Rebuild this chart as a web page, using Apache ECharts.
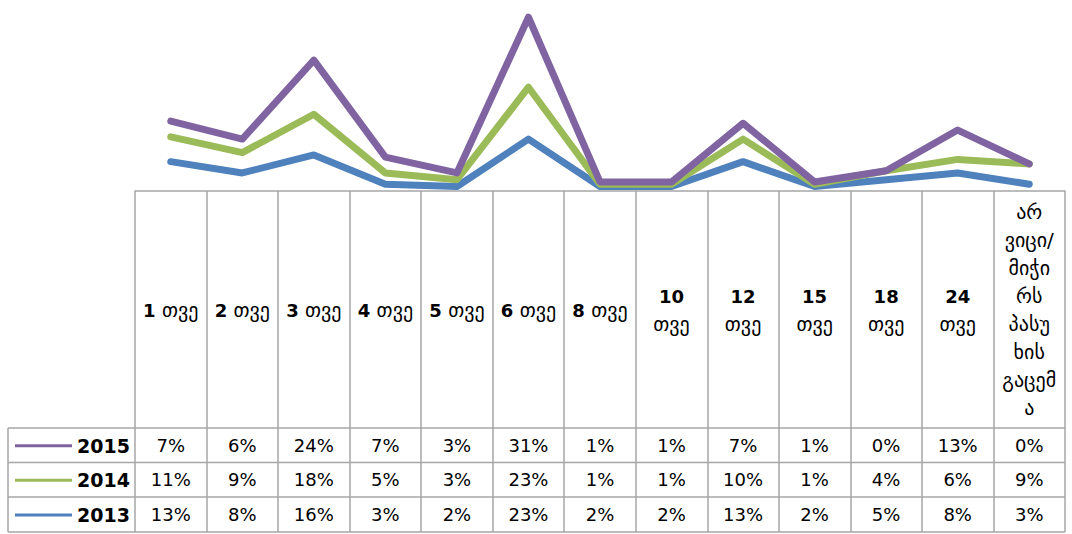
<!DOCTYPE html>
<html>
<head>
<meta charset="utf-8">
<script src="https://cdn.jsdelivr.net/npm/echarts@6/dist/echarts.min.js"></script>
<style>
  html, body { margin: 0; padding: 0; background: #fff; }
  #main { width: 1072px; height: 534px; }
</style>
</head>
<body>
<div id="main"></div>
<script>
// categories (months) and the header text as shown in the table
const categories = ['1 თვე', '2 თვე', '3 თვე', '4 თვე', '5 თვე', '6 თვე', '8 თვე',
  '10 თვე', '12 თვე', '15 თვე', '18 თვე', '24 თვე', 'არ ვიცი/ მიჭირს პასუხის გაცემა'];
const tickLabels = ['{b|1} თვე', '{b|2} თვე', '{b|3} თვე', '{b|4} თვე', '{b|5} თვე', '{b|6} თვე', '{b|8} თვე',
  '{b|10}\nთვე', '{b|12}\nთვე', '{b|15}\nთვე', '{b|18}\nთვე', '{b|24}\nთვე',
  'არ\nვიცი/\nმიჭი\nრს\nპასუ\nხის\nგაცემ\nა'];

const years = ['2015', '2014', '2013'];
const v2015 = [7, 6, 24, 7, 3, 31, 1, 1, 7, 1, 0, 13, 0];
const v2014 = [11, 9, 18, 5, 3, 23, 1, 1, 10, 1, 4, 6, 9];
const v2013 = [13, 8, 16, 3, 2, 23, 2, 2, 13, 2, 5, 8, 3];

const colors = { '2015': '#8064A2', '2014': '#9BBB59', '2013': '#4F81BD' };
const gridColor = '#a6a6a6';
const font = 'DejaVu Sans';

// table rows (y of row borders)
const rowLines = [428, 462.5, 497, 532];

let chart = echarts.init(document.getElementById('main'), null, { renderer: 'svg' });

function lineSeries(name, data) {
  return {
    name: name,
    type: 'line',
    stack: 'total',
    data: data,
    showSymbol: false,
    symbol: 'none',
    color: colors[name],
    lineStyle: { width: 7, color: colors[name], cap: 'round', join: 'round' },
    z: 5,
    animation: false
  };
}

let option = {
  animation: false,
  grid: { left: 135, right: 7, top: 15, bottom: 343 },
  legend: years.map((y, i) => ({
    data: [y],
    left: 10,
    top: (rowLines[i] + rowLines[i + 1]) / 2 - 14,
    icon: 'rect',
    itemWidth: 57,
    itemHeight: 3,
    selectedMode: false,
    textStyle: { fontFamily: font, fontSize: 19, fontWeight: 'bold', color: '#000' }
  })),
  xAxis: {
    type: 'category',
    data: categories,
    boundaryGap: true,
    axisLine: { show: true, lineStyle: { color: gridColor, width: 1.5 } },
    axisTick: { show: true, interval: 0, length: 341, lineStyle: { color: gridColor, width: 1.5 } },
    axisLabel: {
      interval: 0,
      margin: 119,
      verticalAlign: 'middle',
      align: 'center',
      color: '#000',
      fontFamily: font,
      fontSize: 20,
      lineHeight: 28,
      formatter: (v, i) => tickLabels[i],
      rich: {
        b: { fontFamily: font, fontSize: 18, fontWeight: 'bold', color: '#000', lineHeight: 28 }
      }
    }
  },
  yAxis: {
    type: 'value',
    min: 0,
    max: 78,
    show: false,
    splitLine: { show: false }
  },
  series: [
    lineSeries('2013', v2013),
    lineSeries('2014', v2014),
    lineSeries('2015', v2015)
  ]
};

chart.setOption(option);

// data table below the header, aligned to the category axis
const rowValues = { '2015': v2015, '2014': v2014, '2013': v2013 };
let graphics = [];
const x0 = 8;
const x2 = chart.convertToPixel({ xAxisIndex: 0 }, categories.length - 1) + 35.75;

rowLines.forEach(y => {
  graphics.push({
    type: 'line', silent: true,
    shape: { x1: x0, y1: y, x2: x2, y2: y },
    style: { stroke: gridColor, lineWidth: 1.5 }
  });
});
graphics.push({
  type: 'line', silent: true,
  shape: { x1: x0, y1: rowLines[0], x2: x0, y2: rowLines[3] },
  style: { stroke: gridColor, lineWidth: 1.5 }
});

years.forEach((y, r) => {
  const cy = (rowLines[r] + rowLines[r + 1]) / 2;
  rowValues[y].forEach((v, i) => {
    graphics.push({
      type: 'text', silent: true,
      x: chart.convertToPixel({ xAxisIndex: 0 }, i),
      y: cy,
      style: {
        text: v + '%',
        align: 'center',
        verticalAlign: 'middle',
        fontFamily: font,
        fontSize: 18,
        fill: '#000'
      }
    });
  });
});

chart.setOption({ graphic: graphics });
</script>
</body>
</html>
